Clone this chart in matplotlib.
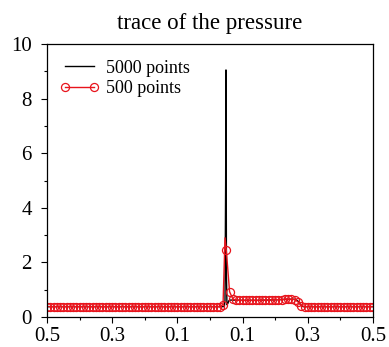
import numpy as np
import matplotlib
matplotlib.use("Agg")
import matplotlib.pyplot as plt
from matplotlib.ticker import MultipleLocator, FixedLocator, FixedFormatter

# 5000-point solution (traced as a polyline of key vertices)
fine_x = [-0.5, 0.044, 0.046, 0.048, 0.049, 0.0505, 0.052, 0.055, 0.058, 0.062,
          0.07, 0.10, 0.15, 0.20, 0.24, 0.262, 0.27, 0.278, 0.285, 0.5]
fine_y = [0.38, 0.38, 0.6, 5.0, 9.05, 1.5, 0.45, 0.5, 0.6, 0.62,
          0.62, 0.61, 0.61, 0.63, 0.65, 0.65, 0.58, 0.45, 0.38, 0.38]

# 500-point solution (every 5th point carries a marker)
left_x = [round(-0.5 + 0.01 * i, 3) for i in range(55)]       # -0.50 .. 0.04
left_y = [0.38] * 54 + [0.45]
peak_x = [0.046, 0.05, 0.06, 0.07]
peak_y = [2.9, 2.45, 0.93, 0.66]
plat_x = [round(0.08 + 0.01 * i, 3) for i in range(19)]         # 0.08 .. 0.26
plat_y = [0.62, 0.61, 0.61, 0.61, 0.61, 0.61, 0.61, 0.61, 0.62, 0.62,
          0.62, 0.63, 0.63, 0.64, 0.64, 0.65, 0.65, 0.65, 0.64]
right_x = [round(0.27 + 0.01 * i, 3) for i in range(24)]        # 0.27 .. 0.50
right_y = [0.55, 0.42] + [0.38] * 22

coarse_x = left_x + peak_x + plat_x + right_x
coarse_y = left_y + peak_y + plat_y + right_y
marker_idx = [i for i in range(len(coarse_x)) if i != len(left_x)]

xticks = [-0.5, -0.3, -0.1, 0.1, 0.3, 0.5]
xticklabels = ["0.5", "0.3", "0.1", "0.1", "0.3", "0.5"]
yticks = [0, 2, 4, 6, 8, 10]

plt.rcParams['font.family'] = ['Liberation Serif', 'DejaVu Serif']
plt.rcParams['mathtext.fontset'] = 'stix'

fig = plt.figure(figsize=(3.89, 3.47), dpi=100)
ax = fig.add_axes([47 / 389, 1 - 317 / 347, 326 / 389, 273 / 347])

ax.plot(fine_x, fine_y, color='black', lw=1.0, label='5000 points')
ax.plot(coarse_x, coarse_y, color='#e8141c', lw=1.0, marker='o', ms=5.8,
        mfc='none', mec='#e8141c', mew=0.9, markevery=marker_idx,
        label='500 points')

ax.set_xlim(-0.5, 0.5)
ax.set_ylim(0, 10)
ax.xaxis.set_major_locator(FixedLocator(xticks))
ax.xaxis.set_major_formatter(FixedFormatter(xticklabels))
ax.xaxis.set_minor_locator(FixedLocator([-0.4, -0.2, 0.0, 0.2, 0.4]))
ax.yaxis.set_major_locator(FixedLocator(yticks))
ax.yaxis.set_minor_locator(MultipleLocator(1))
ax.tick_params(which='major', direction='out', length=4, width=0.8,
               labelsize=15, top=False, right=False)
ax.tick_params(which='minor', direction='out', length=2.5, width=0.8,
               top=False, right=False)
ax.tick_params(axis='x', which='major', pad=3)
ax.tick_params(axis='y', which='major', pad=7)
for s in ax.spines.values():
    s.set_linewidth(0.9)

ax.set_title('trace of the pressure', fontsize=16.5, pad=11)
ax.legend(loc='upper left', bbox_to_anchor=(0, 0.989), frameon=False,
          fontsize=13, handlelength=2.2, numpoints=2, handletextpad=0.35,
          borderaxespad=0.3, labelspacing=0.2, borderpad=0.4)

fig.savefig('out.png', dpi=100)
